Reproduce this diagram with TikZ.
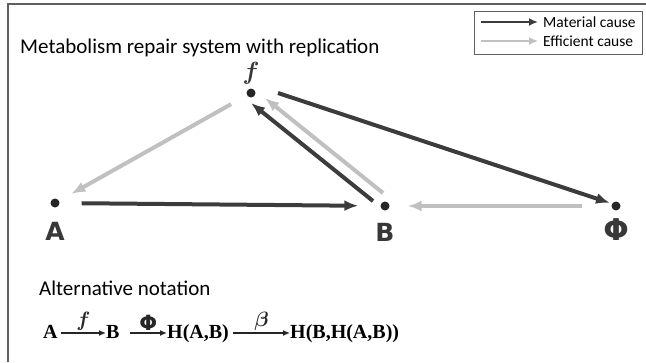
\documentclass[tikz,border=0pt]{standalone}
\usepackage{fontspec}
\setmainfont{Carlito}
\newfontfamily\handfont{DejaVu Sans}
\newfontfamily\notefont{Liberation Serif}
\usetikzlibrary{arrows.meta,positioning}
\definecolor{causedark}{RGB}{60,60,60}
\definecolor{causelight}{RGB}{192,192,192}
\definecolor{framegray}{RGB}{95,95,95}
\tikzset{
  sdot/.style  ={circle, fill=black!85, minimum size=9pt, inner sep=0pt},
  slabel/.style={font=\handfont\bfseries\fontsize{25}{28}\selectfont, text=black!78, inner sep=0pt},
  flabel/.style={font=\boldmath\fontsize{32}{34}\selectfont, text=black!78, inner sep=0pt},
  gmat/.style  ={-{Latex[length=14pt,width=11pt]}, line width=4pt, causedark},
  geff/.style  ={-{Latex[length=14pt,width=11pt]}, line width=4pt, causelight},
  lmat/.style  ={-{Latex[length=9pt,width=8pt]}, line width=2.6pt, causedark},
  leff/.style  ={-{Latex[length=9pt,width=8pt]}, line width=2.6pt, causelight},
  ltext/.style ={font=\fontsize{15.5}{18}\selectfont, anchor=west, inner sep=0pt},
  htext/.style ={font=\fontsize{21}{25}\selectfont, anchor=west, inner sep=0pt},
  nterm/.style ={font=\notefont\bfseries\fontsize{20}{22}\selectfont, anchor=base west, inner sep=0pt},
  narrow/.style={-{Latex[length=7pt,width=6pt]}, line width=1.6pt, black!85},
  nlabel/.style={font=\boldmath\fontsize{22}{24}\selectfont, text=black!85, inner sep=1pt},
}
\begin{document}
\begin{tikzpicture}[x=1pt, y=-1pt]
  \useasboundingbox (0,0) rectangle (646,362);
  % frame and titles
  \draw[framegray, line width=1.2pt] (8,362) -- (8,4) -- (646,4);
  \node[htext] (title) at (20,48) {Metabolism repair system with replication};
  \node[htext] (alt) at (39,288) {Alternative notation};
  % legend
  \draw[framegray, line width=1pt] (474,11) rectangle (642,54);
  \coordinate (m1) at (481,22); \coordinate (m2) at (538,22);
  \coordinate (e1) at (481,41); \coordinate (e2) at (538,41);
  \draw[lmat] (m1) -- (m2);
  \draw[leff] (e1) -- (e2);
  \node[ltext] (mtxt) at (543,22) {Material cause};
  \node[ltext] (etxt) at (543,41) {Efficient cause};
  % the four components
  \node[sdot] (f) at (251,93) {};
  \node[sdot] (A) at (55,203) {};
  \node[sdot] (B) at (385,206) {};
  \node[sdot] (P) at (616,206) {};
  \node[flabel, above=4pt of f] (fl) {$f$};
  \node[slabel, below=14pt of A] (Al) {A};
  \node[slabel, below=12pt of B] (Bl) {B};
  \node[slabel, font=\handfont\bfseries\fontsize{30}{32}\selectfont, below=8pt of P] (Pl) {Φ};
  % causes
  \draw[geff, shorten <=18pt, shorten >=14pt] (f) -- (A);
  \draw[gmat, shorten <=22pt, shorten >=22pt] (A) -- (B);
  \draw[gmat] ([shift={(-12,-5)}]B.center) -- ([shift={(0,10)}]f.center);
  \draw[geff] ([shift={(-2,-13)}]B.center) -- ([shift={(14,5)}]f.center);
  \draw[gmat] ([shift={(27,0)}]f.center) -- ([shift={(-6,-3)}]P.center);
  \draw[geff, shorten <=29pt, shorten >=18pt] (P) -- (B);
  % alternative notation
  \node[nterm] (tA) at (43,338) {A};
  \node[nterm] (tB) at (106,338) {B};
  \node[nterm] (tH1) at (167,338) {H(A,B)};
  \node[nterm] (tH2) at (290,338) {H(B,H(A,B))};
  \draw[narrow] ([shift={(3,-5)}]tA.base east) -- ([shift={(0,-5)}]tB.base west)
    node[midway, above=1pt, nlabel] {$f$};
  \draw[narrow] ([shift={(10,-5)}]tB.base east) -- ([shift={(0,-5)}]tH1.base west)
    node[midway, above=1pt, nlabel] {\handfont\bfseries\fontsize{21}{23}\selectfont Φ};
  \draw[narrow] ([shift={(4,-5)}]tH1.base east) -- ([shift={(0,-5)}]tH2.base west)
    node[midway, above=1pt, nlabel] {$\beta$};
\end{tikzpicture}
\end{document}
